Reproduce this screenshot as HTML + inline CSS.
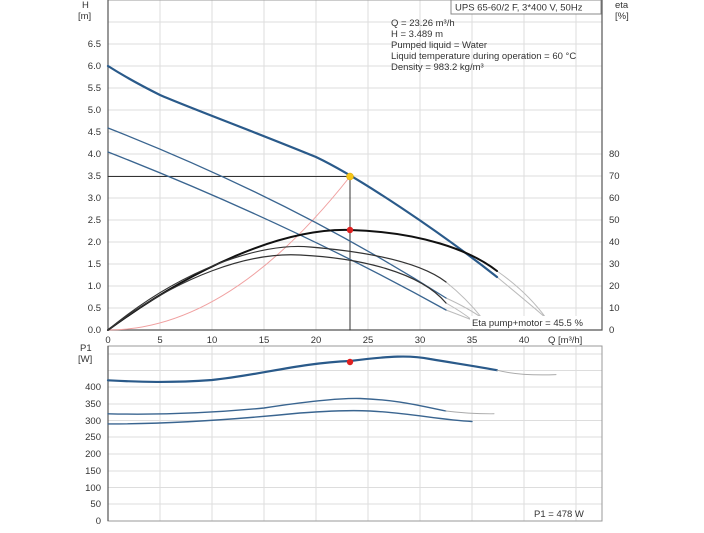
<!DOCTYPE html>
<html><head><meta charset="utf-8"><style>
body{margin:0;background:#fff;width:704px;height:528px;overflow:hidden}
svg{font-family:"Liberation Sans",sans-serif;font-size:9.5px;fill:#333}
</style></head><body>
<svg width="704" height="528" viewBox="0 0 704 528">
<g stroke="#ddd" stroke-width="1">
<path d="M160 0V330M212 0V330M264 0V330M316 0V330M368 0V330M420 0V330M472 0V330M524 0V330M576 0V330"/>
<path d="M108 22H602M108 44H602M108 66H602M108 88H602M108 110H602M108 132H602M108 154H602M108 176H602M108 198H602M108 220H602M108 242H602M108 264H602M108 286H602M108 308H602"/>
<path d="M160 346V521M212 346V521M264 346V521M316 346V521M368 346V521M420 346V521M472 346V521M524 346V521M576 346V521"/>
<path d="M108 354H602M108 370.5H602M108 387H602M108 404H602M108 420.5H602M108 437H602M108 454H602M108 471H602M108 487.5H602M108 504H602"/>
</g>
<rect x="108" y="0" width="494" height="330" fill="none" stroke="#999"/>
<rect x="108" y="346" width="494" height="175" fill="none" stroke="#999"/>
<path d="M108 0V330H602V0" fill="none" stroke="#555" stroke-width="1.2"/>
<path d="M108 346V521" fill="none" stroke="#555" stroke-width="1.2"/>
<g text-anchor="end">
<text x="101" y="47">6.5</text><text x="101" y="69">6.0</text><text x="101" y="91">5.5</text><text x="101" y="113">5.0</text><text x="101" y="135">4.5</text><text x="101" y="157">4.0</text><text x="101" y="179">3.5</text><text x="101" y="201">3.0</text><text x="101" y="223">2.5</text><text x="101" y="245">2.0</text><text x="101" y="267">1.5</text><text x="101" y="289">1.0</text><text x="101" y="311">0.5</text><text x="101" y="333">0.0</text>
<text x="101" y="390">400</text><text x="101" y="407">350</text><text x="101" y="424">300</text><text x="101" y="440">250</text><text x="101" y="457">200</text><text x="101" y="474">150</text><text x="101" y="491">100</text><text x="101" y="507">50</text><text x="101" y="524">0</text>
</g>
<text x="82" y="8">H</text><text x="78" y="19">[m]</text>
<text x="80" y="351">P1</text><text x="78" y="362">[W]</text>
<text x="615" y="8">eta</text><text x="615" y="19">[%]</text>
<g><text x="609" y="157">80</text><text x="609" y="179">70</text><text x="609" y="201">60</text><text x="609" y="223">50</text><text x="609" y="245">40</text><text x="609" y="267">30</text><text x="609" y="289">20</text><text x="609" y="311">10</text><text x="609" y="333">0</text></g>
<g text-anchor="middle"><text x="108" y="343">0</text><text x="160" y="343">5</text><text x="212" y="343">10</text><text x="264" y="343">15</text><text x="316" y="343">20</text><text x="368" y="343">25</text><text x="420" y="343">30</text><text x="472" y="343">35</text><text x="524" y="343">40</text></g>
<text x="548" y="343">Q [m³/h]</text>
<rect x="451" y="0" width="150" height="14" fill="#fff" stroke="#888"/>
<text x="455" y="10.5">UPS 65-60/2 F, 3*400 V, 50Hz</text>
<text x="391" y="26">Q = 23.26 m³/h</text><text x="391" y="37">H = 3.489 m</text><text x="391" y="48">Pumped liquid = Water</text><text x="391" y="59">Liquid temperature during operation = 60 °C</text><text x="391" y="70">Density = 983.2 kg/m³</text>
<g fill="none" stroke-linejoin="round" stroke-linecap="round">
<path d="M108 176.5H350V330" stroke="#333" stroke-width="1"/>
<path d="M108 330Q229 330 350 176.5" stroke="#f0a0a0" stroke-width="1"/>
<path d="M497 277Q525 300 546 318M497 271Q527 292 546 318M446 298Q468 308 482 318M446 282Q466 298 482 318M446 310Q462 316 472 320M446 303Q462 312 472 320" stroke="#bbb" stroke-width="1"/>
<path d="M108 66C130 80 150 90 160 95C190 108 250 130 316 157C360 178 440 232 497 277" stroke="#2a5a8a" stroke-width="2.2"/>
<path d="M108 128C200 164 320 218 446 298" stroke="#3a6590" stroke-width="1.3"/>
<path d="M108 152C200 188 320 240 446 310" stroke="#3a6590" stroke-width="1.3"/>
<path d="M108 330C190 270 280 228 350 230C420 232 470 250 497 271" stroke="#111" stroke-width="2"/>
<path d="M108 330C180 270 260 242 310 247C370 252 420 262 446 282" stroke="#333" stroke-width="1.2"/>
<path d="M108 330C180 275 250 252 300 255C360 258 420 272 446 303" stroke="#333" stroke-width="1.2"/>
<path d="M108 380.3C140 382 170 383 212 380C260 375 300 363 350 361C390 356 410 355 430 359C460 364 480 367 497 370.2" stroke="#2a5a8a" stroke-width="2.2"/>
<path d="M497 370.2Q520 376 556 374.6" stroke="#aaa" stroke-width="1"/>
<path d="M108 413.8C160 415 212 413 264 408C310 401 340 398 360 398.5C400 400 420 406 446 411" stroke="#3a6590" stroke-width="1.4"/>
<path d="M446 411Q470 414 494 413.8" stroke="#aaa" stroke-width="1"/>
<path d="M108 423.9C170 424 230 420 300 413C330 411 350 410 370 411C410 413 440 420 472 421.5" stroke="#3a6590" stroke-width="1.4"/>
</g>
<rect x="470" y="316" width="124" height="12" fill="#fff"/>
<text x="472" y="326">Eta pump+motor = 45.5 %</text>
<text x="534" y="517">P1 = 478 W</text>
<circle cx="350" cy="176.5" r="3.5" fill="#f5c518" stroke="#d9a800" stroke-width="0.5"/>
<circle cx="350" cy="230" r="3.2" fill="#e02020"/>
<circle cx="350" cy="362" r="3.2" fill="#e02020"/>
</svg>
</body></html>
